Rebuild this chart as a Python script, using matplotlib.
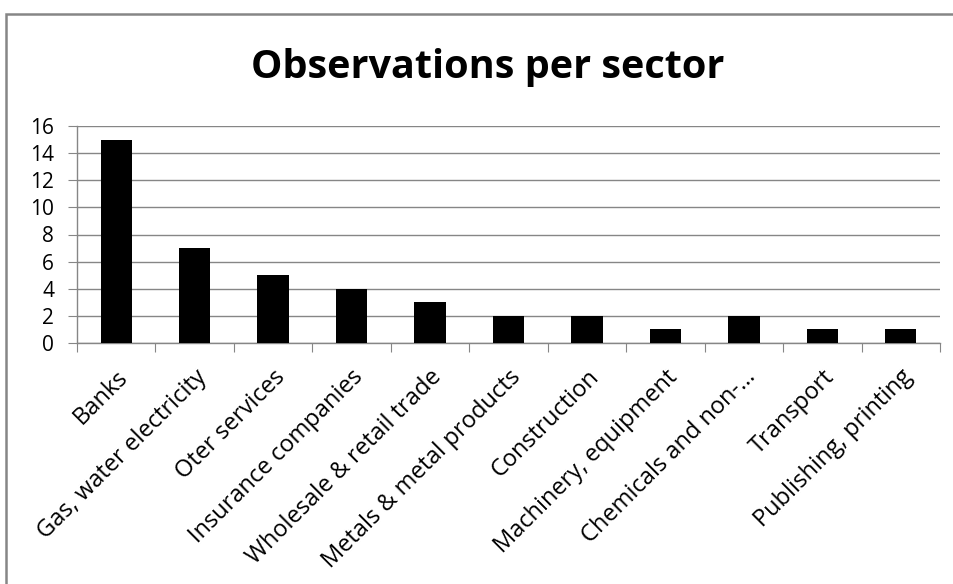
import matplotlib
matplotlib.use('Agg')
import numpy as np
from matplotlib import pyplot as plt
from matplotlib.patches import Rectangle

# data
sectors = ['Banks', 'Gas, water electricity', 'Oter services', 'Insurance companies',
           'Wholesale & retail trade', 'Metals & metal products', 'Construction',
           'Machinery, equipment', 'Chemicals and non-\u2026', 'Transport',
           'Publishing, printing']
observations = [15, 7, 5, 4, 3, 2, 2, 1, 2, 1, 1]
y_ticks = [0, 2, 4, 6, 8, 10, 12, 14, 16]

plt.rcParams['font.family'] = ['Open Sans', 'DejaVu Sans']
grid_col = '#868686'

fig = plt.figure(figsize=(9.54, 5.84), dpi=100, facecolor='w')
ax = fig.add_axes([77/954, 1 - 343/584, (940 - 77)/954, (343 - 126)/584])

x = np.arange(len(sectors))
ax.bar(x, observations, width=0.40, color='black', zorder=3)

ax.set_xlim(-0.5, len(sectors) - 0.5)
ax.set_ylim(0, 16)
ax.set_yticks(y_ticks)
ax.tick_params(axis='y', length=6.5, color=grid_col, pad=10, labelsize=15)
ax.yaxis.grid(True, color=grid_col, lw=1, zorder=0)

# ticks between categories, labels under bar centres
ax.set_xticks(np.arange(len(sectors) + 1) - 0.5)
ax.set_xticklabels([])
ax.tick_params(axis='x', length=6.5, color=grid_col)
ax.set_xticks(x, minor=True)
ax.set_xticklabels(sectors, minor=True, rotation=45, ha='right', va='top',
                   rotation_mode='anchor', fontsize=17)
ax.tick_params(axis='x', which='minor', length=0, pad=16)

for s in ['top', 'right']:
    ax.spines[s].set_visible(False)
for s in ['left', 'bottom']:
    ax.spines[s].set_color(grid_col)
    ax.spines[s].set_linewidth(1)

fig.text(488/954, 1 - 78/584, 'Observations per sector', ha='center', va='baseline',
         fontsize=28.5, fontweight='bold')

# chart frame
fig.patches.append(Rectangle((6/954, -0.2), 1.2, 1.2 - 14/584,
                             transform=fig.transFigure, fill=False,
                             edgecolor='#868686', lw=1.8))

fig.savefig('out.png', dpi=100)
